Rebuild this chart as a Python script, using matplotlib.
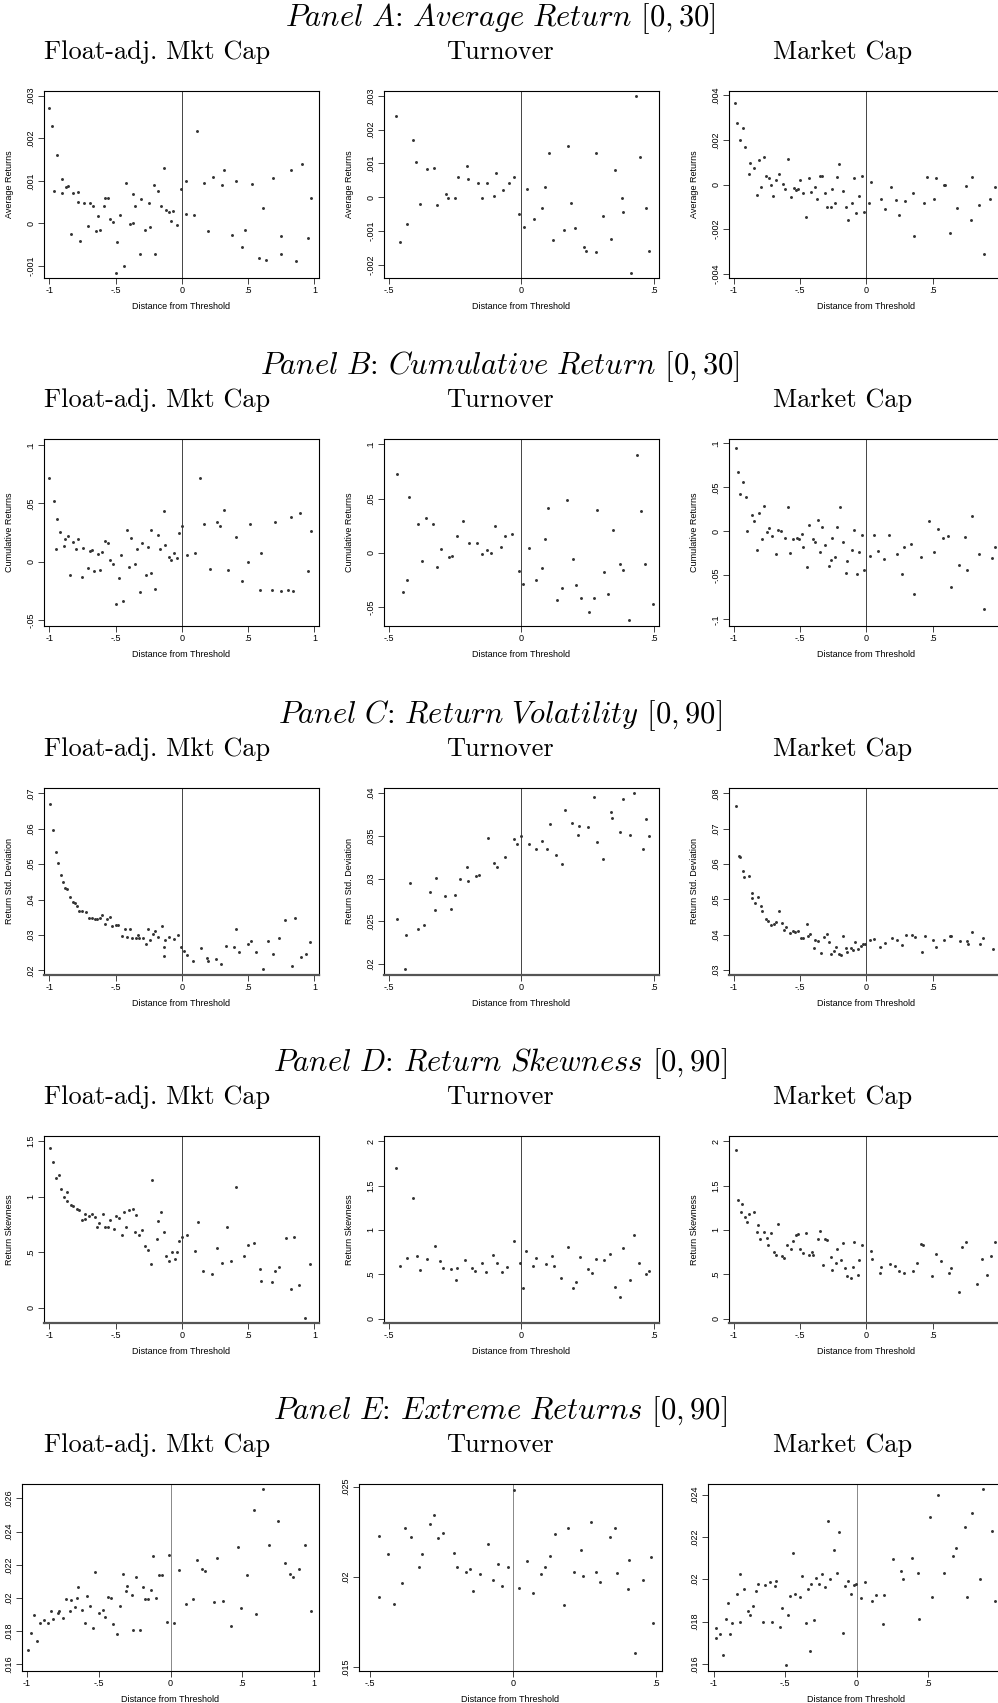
import numpy as np
import matplotlib.pyplot as plt
from matplotlib.ticker import FuncFormatter

plt.rcParams['mathtext.fontset'] = 'cm'
plt.rcParams['font.family'] = ['Liberation Sans Narrow', 'Liberation Sans', 'DejaVu Sans']

# ---------------- data (x = distance from threshold, y = outcome) ----------------
# Panel A, average return [0,30]  (y in units of 1e-3)
a_fmc = [(-1.0, 2.72), (-0.976, 2.29), (-0.943, 1.60), (-0.967, 0.76), (-0.905, 1.04), (-0.905, 0.71),
         (-0.876, 0.86), (-0.86, 0.88), (-0.833, -0.24), (-0.819, 0.71), (-0.785, 0.74), (-0.785, 0.50),
         (-0.766, -0.40), (-0.74, 0.47), (-0.71, -0.06), (-0.69, 0.48), (-0.67, 0.40), (-0.65, -0.18),
         (-0.635, 0.18), (-0.615, -0.15), (-0.59, 0.40), (-0.578, 0.59), (-0.56, 0.59), (-0.544, 0.10),
         (-0.52, 0.04), (-0.5, -1.16), (-0.487, -0.43), (-0.47, 0.21), (-0.44, -1.00), (-0.425, 0.96),
         (-0.39, -0.02), (-0.37, 0.69), (-0.368, 0.02), (-0.35, 0.40), (-0.315, -0.72), (-0.305, 0.58),
         (-0.28, -0.15), (-0.248, 0.49), (-0.24, -0.08), (-0.21, 0.91), (-0.2, -0.71), (-0.18, 0.76),
         (-0.158, 0.40), (-0.138, 1.31), (-0.12, 0.32), (-0.095, 0.26), (-0.08, 0.05), (-0.067, 0.30),
         (-0.038, -0.03), (-0.01, 0.82), (0.033, 1.00), (0.033, 0.22), (0.09, 0.20), (0.115, 2.17),
         (0.17, 0.96), (0.2, -0.18), (0.234, 1.09), (0.305, 0.90), (0.315, 1.25), (0.38, -0.27),
         (0.41, 0.99), (0.453, -0.55), (0.477, -0.16), (0.53, 0.92), (0.58, -0.82), (0.61, 0.37),
         (0.635, -0.85), (0.69, 1.06), (0.745, -0.71), (0.75, -0.29), (0.826, 1.25), (0.86, -0.87),
         (0.907, 1.40), (0.95, -0.33), (0.974, 0.60)]
a_to = [(-0.471, 2.41), (-0.455, -1.33), (-0.43, -0.79), (-0.407, 1.71), (-0.397, 1.04), (-0.383, -0.21),
        (-0.354, 0.83), (-0.33, 0.86), (-0.318, -0.23), (-0.285, 0.08), (-0.275, -0.04), (-0.251, -0.04),
        (-0.239, 0.61), (-0.203, 0.93), (-0.199, 0.53), (-0.163, 0.41), (-0.146, -0.03), (-0.129, 0.41),
        (-0.103, 0.02), (-0.096, 0.73), (-0.067, 0.21), (-0.045, 0.43), (-0.029, 0.59), (-0.007, -0.51),
        (0.01, -0.89), (0.022, 0.23), (0.048, -0.65), (0.079, -0.31), (0.091, 0.29), (0.105, 1.30),
        (0.12, -1.26), (0.16, -0.97), (0.177, 1.51), (0.187, -0.18), (0.203, -0.91), (0.237, -1.48),
        (0.244, -1.60), (0.28, 1.30), (0.28, -1.62), (0.309, -0.57), (0.337, -1.25), (0.352, 0.81),
        (0.378, -0.04), (0.385, -0.45), (0.414, -2.24), (0.431, 3.00), (0.447, 1.19), (0.471, -0.31),
        (0.483, -1.60)]
a_mc = [(-0.99, 3.67), (-0.98, 2.77), (-0.952, 1.98), (-0.93, 2.56), (-0.914, 1.69), (-0.886, 0.49),
        (-0.876, 0.97), (-0.852, 0.75), (-0.83, -0.45), (-0.814, 1.09), (-0.795, -0.10), (-0.77, 1.23),
        (-0.757, 0.40), (-0.738, 0.28), (-0.72, 0.0), (-0.705, -0.52), (-0.68, 0.22), (-0.66, 0.45),
        (-0.633, 0.01), (-0.614, -0.18), (-0.59, 1.14), (-0.57, -0.55), (-0.548, -0.15), (-0.53, -0.25),
        (-0.514, -0.18), (-0.5, 0.19), (-0.476, -0.39), (-0.457, -1.44), (-0.433, 0.30), (-0.42, -0.33),
        (-0.39, -0.10), (-0.376, -0.63), (-0.352, 0.36), (-0.338, 0.39), (-0.314, -0.40), (-0.295, -1.00),
        (-0.27, -1.02), (-0.262, -0.22), (-0.238, -0.84), (-0.224, 0.33), (-0.205, 0.91), (-0.18, -0.30),
        (-0.152, -1.02), (-0.138, -1.60), (-0.11, -0.81), (-0.09, 0.28), (-0.076, -1.29), (-0.052, -0.52),
        (-0.033, 0.40), (-0.019, -1.24), (0.019, -0.82), (0.033, 0.09), (0.11, -0.63), (0.138, -1.08),
        (0.186, -0.12), (0.224, -0.69), (0.248, -1.38), (0.295, -0.72), (0.352, -0.40), (0.362, -2.32),
        (0.438, -0.84), (0.457, 0.33), (0.514, -0.67), (0.524, 0.31), (0.586, -0.03), (0.595, -0.03),
        (0.633, -2.19), (0.686, -1.05), (0.752, -0.07), (0.79, -1.59), (0.80, 0.34), (0.852, -0.93),
        (0.886, -3.13), (0.933, -0.63), (0.971, -0.13)]

# Panel B, cumulative return [0,30]
b_fmc = [(-1.0, 0.0715), (-0.967, 0.0519), (-0.943, 0.0368), (-0.952, 0.0105), (-0.919, 0.0254),
         (-0.89, 0.0134), (-0.88, 0.0197), (-0.857, 0.0219), (-0.843, -0.0114), (-0.819, 0.0168),
         (-0.795, 0.0105), (-0.78, 0.0197), (-0.757, -0.0131), (-0.743, 0.0117), (-0.71, -0.0051),
         (-0.69, 0.0094), (-0.676, 0.0100), (-0.66, -0.0083), (-0.635, 0.0063), (-0.62, -0.0074),
         (-0.606, 0.0085), (-0.578, 0.0174), (-0.56, 0.0160), (-0.544, 0.0011), (-0.523, -0.0023),
         (-0.5, -0.0362), (-0.477, -0.0140), (-0.457, 0.0054), (-0.442, -0.0339), (-0.415, 0.0271),
         (-0.40, -0.0043), (-0.385, 0.0202), (-0.357, -0.0020), (-0.338, 0.0108), (-0.315, -0.0259),
         (-0.30, 0.0160), (-0.272, -0.0114), (-0.253, 0.0128), (-0.234, 0.0271), (-0.234, -0.0094),
         (-0.20, -0.0236), (-0.18, 0.0225), (-0.167, 0.0111), (-0.138, 0.0436), (-0.124, 0.0140),
         (-0.095, 0.0040), (-0.081, 0.0014), (-0.057, 0.0077), (-0.038, 0.0028), (-0.019, 0.0248),
         (0.0, 0.0305), (0.038, 0.0054), (0.10, 0.0077), (0.138, 0.0718), (0.167, 0.0319),
         (0.215, -0.0063), (0.263, 0.0339), (0.286, 0.0305), (0.315, 0.0444), (0.348, -0.0074),
         (0.41, 0.0211), (0.453, -0.0165), (0.50, -0.0003), (0.516, 0.0325), (0.59, -0.0239),
         (0.597, 0.0071), (0.70, 0.0339), (0.68, -0.0245), (0.745, -0.0251), (0.80, -0.0239),
         (0.823, 0.0379), (0.838, -0.0248), (0.895, 0.0416), (0.952, -0.0077), (0.976, 0.0259)]
b_to = [(-0.467, 0.073), (-0.447, -0.0362), (-0.43, -0.0255), (-0.423, 0.0512), (-0.39, 0.027),
        (-0.373, -0.008), (-0.359, 0.0325), (-0.333, 0.027), (-0.318, -0.0132), (-0.301, 0.0031),
        (-0.273, -0.0043), (-0.261, -0.0025), (-0.242, 0.0156), (-0.22, 0.0298), (-0.196, 0.0095),
        (-0.165, 0.0095), (-0.146, -0.0009), (-0.129, 0.0025), (-0.115, 0.0), (-0.10, 0.0245),
        (-0.077, 0.0055), (-0.06, 0.0153), (-0.033, 0.0172), (-0.007, -0.0166), (0.007, -0.0285),
        (0.031, 0.0043), (0.057, -0.0255), (0.077, -0.0138), (0.091, 0.0123), (0.10, 0.0414),
        (0.136, -0.0436), (0.155, -0.0322), (0.172, 0.0491), (0.194, -0.0058), (0.208, -0.0294),
        (0.227, -0.0417), (0.254, -0.0543), (0.275, -0.0417), (0.285, 0.0396), (0.313, -0.0175),
        (0.325, -0.0383), (0.344, 0.0209), (0.371, -0.0107), (0.385, -0.0163), (0.407, -0.0617),
        (0.438, 0.0902), (0.452, 0.0387), (0.467, -0.0101), (0.495, -0.0475)]
b_mc = [(-0.986, 0.0951), (-0.967, 0.0674), (-0.933, 0.056), (-0.952, 0.042), (-0.91, 0.039),
        (-0.90, 0.0008), (-0.867, 0.0186), (-0.852, 0.0117), (-0.829, -0.0212), (-0.814, 0.0205),
        (-0.786, -0.0083), (-0.776, 0.0292), (-0.748, -0.0004), (-0.733, 0.0038), (-0.714, -0.0053),
        (-0.686, -0.0258), (-0.667, 0.0015), (-0.648, 0.0), (-0.614, -0.0072), (-0.59, 0.0277),
        (-0.576, -0.025), (-0.557, -0.0091), (-0.524, -0.008), (-0.51, -0.0087), (-0.49, -0.003),
        (-0.476, -0.0182), (-0.452, -0.0409), (-0.433, 0.0072), (-0.405, -0.0091), (-0.386, -0.0117),
        (-0.362, 0.0129), (-0.352, -0.0231), (-0.333, 0.0049), (-0.31, -0.0159), (-0.286, -0.0398),
        (-0.271, -0.033), (-0.257, -0.0072), (-0.238, -0.0292), (-0.219, 0.0049), (-0.20, 0.028),
        (-0.176, -0.0117), (-0.157, -0.0477), (-0.143, -0.0341), (-0.11, -0.0216), (-0.095, 0.0019),
        (-0.071, -0.0485), (-0.052, -0.0239), (-0.033, -0.0038), (-0.019, -0.0436), (0.024, -0.028),
        (0.057, -0.0038), (0.09, -0.022), (0.133, -0.0314), (0.171, -0.0045), (0.229, -0.0261),
        (0.271, -0.0481), (0.281, -0.0182), (0.338, -0.0144), (0.362, -0.0716), (0.41, -0.0292),
        (0.476, 0.0114), (0.514, -0.0231), (0.543, 0.0027), (0.581, -0.008), (0.619, -0.0053),
        (0.643, -0.0633), (0.70, -0.0383), (0.743, -0.0061), (0.762, -0.0443), (0.80, 0.0178),
        (0.852, -0.0254), (0.886, -0.0886), (0.948, -0.0299), (0.971, -0.0174)]

# Panel C, return volatility [0,90]
c_fmc = [(-0.993, 0.0671), (-0.969, 0.0596), (-0.95, 0.0534), (-0.936, 0.0502), (-0.912, 0.0470),
         (-0.893, 0.0451), (-0.878, 0.0434), (-0.864, 0.0431), (-0.845, 0.0407), (-0.821, 0.0394),
         (-0.807, 0.0391), (-0.788, 0.0381), (-0.773, 0.0368), (-0.754, 0.0368), (-0.726, 0.0366),
         (-0.697, 0.0348), (-0.678, 0.0348), (-0.654, 0.0345), (-0.64, 0.0346), (-0.621, 0.0349),
         (-0.606, 0.0357), (-0.582, 0.0331), (-0.563, 0.0344), (-0.544, 0.0352), (-0.525, 0.0326),
         (-0.50, 0.0328), (-0.482, 0.0328), (-0.453, 0.0298), (-0.43, 0.0318), (-0.41, 0.0294),
         (-0.391, 0.0317), (-0.377, 0.0291), (-0.348, 0.0291), (-0.33, 0.0300), (-0.32, 0.0291),
         (-0.296, 0.0291), (-0.272, 0.0275), (-0.253, 0.0317), (-0.239, 0.0287), (-0.22, 0.0303),
         (-0.205, 0.0311), (-0.177, 0.0295), (-0.153, 0.0324), (-0.138, 0.0267), (-0.138, 0.0241),
         (-0.124, 0.0286), (-0.095, 0.0294), (-0.062, 0.0288), (-0.029, 0.0300), (-0.01, 0.0265),
         (0.019, 0.0256), (0.038, 0.0243), (0.086, 0.0227), (0.148, 0.0263), (0.19, 0.0236),
         (0.20, 0.0226), (0.26, 0.0232), (0.296, 0.0217), (0.334, 0.0269), (0.39, 0.0265),
         (0.41, 0.0317), (0.434, 0.0253), (0.496, 0.0275), (0.525, 0.0283), (0.563, 0.0253),
         (0.61, 0.0205), (0.649, 0.0284), (0.687, 0.0246), (0.73, 0.0292), (0.782, 0.0342),
         (0.83, 0.0212), (0.854, 0.0349), (0.897, 0.0238), (0.936, 0.0247), (0.969, 0.0279)]
c_to = [(-0.467, 0.0252), (-0.438, 0.0194), (-0.435, 0.0234), (-0.419, 0.0295), (-0.39, 0.0241),
        (-0.368, 0.0246), (-0.342, 0.0284), (-0.325, 0.0263), (-0.321, 0.0301), (-0.287, 0.0280),
        (-0.266, 0.0264), (-0.251, 0.0281), (-0.232, 0.0300), (-0.199, 0.0297), (-0.206, 0.0314),
        (-0.17, 0.0303), (-0.16, 0.0304), (-0.124, 0.0347), (-0.103, 0.0318), (-0.093, 0.0313),
        (-0.062, 0.0325), (-0.029, 0.0346), (-0.017, 0.0340), (0.0, 0.0350), (0.031, 0.0341),
        (0.055, 0.0335), (0.077, 0.0344), (0.096, 0.0335), (0.108, 0.0364), (0.132, 0.0328),
        (0.153, 0.0317), (0.165, 0.0380), (0.191, 0.0365), (0.215, 0.0351), (0.218, 0.0362),
        (0.251, 0.0360), (0.273, 0.0395), (0.285, 0.0343), (0.309, 0.0323), (0.337, 0.0378),
        (0.342, 0.0371), (0.371, 0.0355), (0.383, 0.0393), (0.409, 0.0351), (0.426, 0.0400),
        (0.459, 0.0335), (0.469, 0.0370), (0.483, 0.0350)]
c_mc = [(-0.986, 0.0764), (-0.962, 0.0624), (-0.952, 0.0621), (-0.933, 0.0579), (-0.924, 0.0564),
        (-0.89, 0.0567), (-0.867, 0.0517), (-0.862, 0.0503), (-0.838, 0.0489), (-0.819, 0.0508),
        (-0.795, 0.0482), (-0.79, 0.0468), (-0.762, 0.0445), (-0.743, 0.0440), (-0.719, 0.0427),
        (-0.70, 0.0430), (-0.68, 0.0435), (-0.662, 0.0468), (-0.638, 0.0432), (-0.624, 0.0413),
        (-0.605, 0.0421), (-0.576, 0.0404), (-0.557, 0.0410), (-0.543, 0.0408), (-0.519, 0.0410),
        (-0.495, 0.0390), (-0.476, 0.0390), (-0.452, 0.0429), (-0.438, 0.0397), (-0.424, 0.0403),
        (-0.395, 0.0363), (-0.386, 0.0384), (-0.362, 0.0383), (-0.343, 0.0347), (-0.319, 0.0394),
        (-0.30, 0.0401), (-0.286, 0.0378), (-0.271, 0.0345), (-0.248, 0.0353), (-0.229, 0.0364),
        (-0.21, 0.0345), (-0.19, 0.0343), (-0.176, 0.0397), (-0.152, 0.0361), (-0.143, 0.0351),
        (-0.119, 0.0363), (-0.10, 0.0358), (-0.086, 0.0380), (-0.062, 0.0360), (-0.043, 0.0369),
        (-0.029, 0.0375), (-0.014, 0.0374), (0.024, 0.0386), (0.057, 0.0388), (0.105, 0.0366),
        (0.138, 0.0377), (0.19, 0.0392), (0.229, 0.0385), (0.267, 0.0370), (0.30, 0.0398),
        (0.343, 0.0399), (0.371, 0.0393), (0.424, 0.0352), (0.443, 0.0397), (0.505, 0.0386),
        (0.529, 0.0365), (0.586, 0.0386), (0.629, 0.0395), (0.643, 0.0395), (0.705, 0.0383),
        (0.757, 0.0381), (0.767, 0.0373), (0.80, 0.0408), (0.862, 0.0375), (0.881, 0.0390),
        (0.957, 0.0360)]

# Panel D, return skewness [0,90]
d_fmc = [(-0.995, 1.438), (-0.971, 1.312), (-0.952, 1.171), (-0.928, 1.192), (-0.909, 1.072),
         (-0.89, 1.0), (-0.866, 1.042), (-0.866, 0.958), (-0.838, 0.928), (-0.819, 0.916),
         (-0.79, 0.886), (-0.776, 0.880), (-0.757, 0.790), (-0.733, 0.796), (-0.728, 0.841),
         (-0.704, 0.826), (-0.68, 0.841), (-0.657, 0.814), (-0.64, 0.727), (-0.623, 0.760),
         (-0.595, 0.844), (-0.576, 0.727), (-0.558, 0.724), (-0.539, 0.790), (-0.515, 0.712),
         (-0.50, 0.823), (-0.477, 0.805), (-0.453, 0.661), (-0.439, 0.865), (-0.425, 0.724),
         (-0.40, 0.883), (-0.372, 0.892), (-0.353, 0.682), (-0.348, 0.832), (-0.32, 0.661),
         (-0.301, 0.706), (-0.277, 0.562), (-0.258, 0.526), (-0.234, 0.399), (-0.224, 1.147),
         (-0.191, 0.622), (-0.177, 0.778), (-0.158, 0.862), (-0.138, 0.688), (-0.12, 0.465),
         (-0.10, 0.423), (-0.072, 0.502), (-0.053, 0.441), (-0.038, 0.508), (-0.024, 0.604),
         (0.0, 0.637), (0.038, 0.658), (0.10, 0.511), (0.124, 0.772), (0.162, 0.330),
         (0.229, 0.309), (0.267, 0.541), (0.305, 0.408), (0.344, 0.727), (0.372, 0.420),
         (0.41, 1.090), (0.468, 0.465), (0.496, 0.565), (0.544, 0.583), (0.592, 0.351),
         (0.597, 0.246), (0.678, 0.234), (0.702, 0.330), (0.73, 0.369), (0.788, 0.631),
         (0.826, 0.171), (0.845, 0.637), (0.883, 0.210), (0.931, -0.090), (0.969, 0.399)]
d_to = [(-0.471, 1.695), (-0.457, 0.591), (-0.43, 0.685), (-0.409, 1.363), (-0.392, 0.704),
        (-0.383, 0.546), (-0.354, 0.674), (-0.323, 0.825), (-0.306, 0.648), (-0.294, 0.576),
        (-0.266, 0.561), (-0.244, 0.433), (-0.242, 0.569), (-0.211, 0.659), (-0.187, 0.569),
        (-0.175, 0.535), (-0.148, 0.629), (-0.132, 0.524), (-0.105, 0.719), (-0.093, 0.625),
        (-0.072, 0.531), (-0.053, 0.588), (-0.029, 0.874), (-0.005, 0.625), (0.007, 0.350),
        (0.019, 0.761), (0.043, 0.595), (0.057, 0.685), (0.093, 0.614), (0.117, 0.704),
        (0.124, 0.595), (0.148, 0.463), (0.177, 0.810), (0.196, 0.343), (0.206, 0.418),
        (0.22, 0.697), (0.251, 0.565), (0.266, 0.512), (0.282, 0.674), (0.313, 0.667),
        (0.335, 0.734), (0.354, 0.354), (0.371, 0.249), (0.383, 0.799), (0.411, 0.437),
        (0.423, 0.949), (0.443, 0.633), (0.469, 0.505), (0.481, 0.539)]
d_mc = [(-0.986, 1.902), (-0.967, 1.333), (-0.943, 1.288), (-0.948, 1.198), (-0.914, 1.141),
        (-0.90, 1.085), (-0.886, 1.179), (-0.852, 1.202), (-0.829, 0.972), (-0.819, 1.058),
        (-0.80, 0.896), (-0.771, 0.972), (-0.752, 0.915), (-0.743, 0.829), (-0.719, 0.964),
        (-0.70, 0.757), (-0.681, 0.716), (-0.667, 1.070), (-0.638, 0.708), (-0.624, 0.682),
        (-0.60, 0.829), (-0.567, 0.780), (-0.557, 0.881), (-0.533, 0.942), (-0.519, 0.953),
        (-0.50, 0.791), (-0.481, 0.742), (-0.457, 0.964), (-0.433, 0.723), (-0.414, 0.753),
        (-0.40, 0.716), (-0.367, 0.896), (-0.352, 0.994), (-0.324, 0.610), (-0.314, 0.896),
        (-0.30, 0.889), (-0.271, 0.697), (-0.257, 0.546), (-0.233, 0.633), (-0.224, 0.780),
        (-0.195, 0.663), (-0.176, 0.851), (-0.162, 0.569), (-0.143, 0.486), (-0.119, 0.460),
        (-0.10, 0.588), (-0.09, 0.859), (-0.067, 0.490), (-0.052, 0.659), (-0.033, 0.832),
        (0.033, 0.768), (0.043, 0.678), (0.10, 0.516), (0.114, 0.584), (0.181, 0.621),
        (0.214, 0.595), (0.248, 0.535), (0.286, 0.512), (0.352, 0.542), (0.386, 0.629),
        (0.41, 0.844), (0.429, 0.829), (0.495, 0.478), (0.529, 0.727), (0.562, 0.655),
        (0.624, 0.516), (0.638, 0.573), (0.70, 0.298), (0.724, 0.810), (0.752, 0.862),
        (0.838, 0.395), (0.871, 0.674), (0.914, 0.497), (0.938, 0.708), (0.971, 0.859)]

# Panel E, extreme returns [0,90]
e_fmc = [(-0.993, 0.01688), (-0.971, 0.01791), (-0.949, 0.01897), (-0.927, 0.01742), (-0.905, 0.01851),
         (-0.879, 0.01865), (-0.852, 0.01847), (-0.83, 0.01921), (-0.817, 0.01871), (-0.786, 0.01911),
         (-0.773, 0.01923), (-0.751, 0.01879), (-0.728, 0.01995), (-0.702, 0.01919), (-0.693, 0.01987),
         (-0.667, 0.01943), (-0.649, 0.02001), (-0.64, 0.02067), (-0.618, 0.01927), (-0.596, 0.01851),
         (-0.578, 0.02011), (-0.561, 0.01953), (-0.539, 0.01817), (-0.525, 0.02158), (-0.494, 0.01907),
         (-0.468, 0.01927), (-0.455, 0.01885), (-0.433, 0.02007), (-0.411, 0.01999), (-0.402, 0.01845),
         (-0.371, 0.01781), (-0.353, 0.01951), (-0.331, 0.02146), (-0.313, 0.02045), (-0.305, 0.02071),
         (-0.269, 0.02021), (-0.26, 0.01805), (-0.243, 0.02128), (-0.212, 0.01805), (-0.19, 0.02067),
         (-0.177, 0.01991), (-0.159, 0.01991), (-0.137, 0.02047), (-0.119, 0.02252), (-0.101, 0.01999),
         (-0.079, 0.02136), (-0.062, 0.02136), (-0.026, 0.01853), (-0.013, 0.02262), (0.022, 0.01851),
         (0.057, 0.02170), (0.11, 0.01961), (0.159, 0.01991), (0.185, 0.02226), (0.221, 0.02172),
         (0.238, 0.02160), (0.30, 0.01973), (0.322, 0.02242), (0.367, 0.01981), (0.419, 0.01831),
         (0.468, 0.02308), (0.49, 0.01941), (0.534, 0.02136), (0.583, 0.02529), (0.596, 0.01905),
         (0.64, 0.02655), (0.684, 0.02322), (0.75, 0.02463), (0.795, 0.02212), (0.834, 0.02146),
         (0.852, 0.02126), (0.896, 0.02176), (0.936, 0.02322), (0.976, 0.01919)]
e_to = [(-0.47, 0.02225), (-0.47, 0.01890), (-0.438, 0.02129), (-0.415, 0.01849), (-0.389, 0.01965),
        (-0.378, 0.02271), (-0.356, 0.02221), (-0.329, 0.02057), (-0.318, 0.02127), (-0.289, 0.02295),
        (-0.275, 0.02344), (-0.262, 0.02217), (-0.246, 0.02245), (-0.206, 0.02133), (-0.195, 0.02053),
        (-0.163, 0.02029), (-0.152, 0.02044), (-0.141, 0.01923), (-0.114, 0.02017), (-0.089, 0.02180),
        (-0.069, 0.01983), (-0.051, 0.02072), (-0.038, 0.01952), (-0.018, 0.02052), (0.002, 0.02479),
        (0.022, 0.01941), (0.049, 0.02090), (0.069, 0.01912), (0.098, 0.02018), (0.11, 0.02055),
        (0.128, 0.02118), (0.145, 0.02239), (0.177, 0.01845), (0.192, 0.02269), (0.213, 0.02029),
        (0.237, 0.02151), (0.244, 0.02006), (0.271, 0.02302), (0.291, 0.02028), (0.304, 0.01972),
        (0.338, 0.02221), (0.358, 0.02271), (0.365, 0.02024), (0.403, 0.01934), (0.407, 0.02096),
        (0.427, 0.01580), (0.456, 0.01982), (0.481, 0.02110), (0.49, 0.01746)]
e_mc = [(-0.987, 0.01771), (-0.987, 0.01723), (-0.955, 0.01742), (-0.933, 0.01642), (-0.915, 0.01813),
        (-0.897, 0.01887), (-0.884, 0.01742), (-0.871, 0.01794), (-0.839, 0.01928), (-0.817, 0.01796),
        (-0.813, 0.02025), (-0.786, 0.01954), (-0.759, 0.01849), (-0.746, 0.01833), (-0.728, 0.01873),
        (-0.705, 0.01942), (-0.688, 0.01978), (-0.656, 0.01797), (-0.638, 0.01973), (-0.607, 0.01987),
        (-0.594, 0.01799), (-0.571, 0.01969), (-0.567, 0.01991), (-0.536, 0.01772), (-0.522, 0.01862),
        (-0.496, 0.01594), (-0.478, 0.01833), (-0.469, 0.01921), (-0.446, 0.02126), (-0.429, 0.01932),
        (-0.393, 0.01918), (-0.384, 0.02016), (-0.353, 0.01793), (-0.339, 0.01954), (-0.326, 0.01659),
        (-0.317, 0.01975), (-0.299, 0.01807), (-0.286, 0.02006), (-0.263, 0.01978), (-0.241, 0.02025),
        (-0.219, 0.01964), (-0.201, 0.02277), (-0.187, 0.02000), (-0.161, 0.02138), (-0.138, 0.02031),
        (-0.125, 0.02225), (-0.094, 0.01744), (-0.08, 0.01969), (-0.062, 0.01991), (-0.036, 0.01929),
        (-0.018, 0.01973), (-0.004, 0.01978), (0.031, 0.01909), (0.058, 0.01987), (0.112, 0.01895),
        (0.134, 0.01926), (0.196, 0.01926), (0.188, 0.01786), (0.254, 0.02094), (0.313, 0.02041),
        (0.326, 0.02003), (0.388, 0.02101), (0.433, 0.02031), (0.438, 0.01813), (0.518, 0.02292),
        (0.527, 0.01917), (0.571, 0.02399), (0.616, 0.02028), (0.674, 0.02110), (0.696, 0.02146),
        (0.763, 0.02248), (0.772, 0.01918), (0.808, 0.02314), (0.866, 0.02002), (0.888, 0.02426),
        (0.946, 0.02228), (0.973, 0.01895)]

col_names = ["Float-adj. Mkt Cap", "Turnover", "Market Cap"]
panel_titles = [r"$\mathit{Panel\ A}$: $\mathit{Average\ Return}$ $[0,30]$",
                r"$\mathit{Panel\ B}$: $\mathit{Cumulative\ Return}$ $[0,30]$",
                r"$\mathit{Panel\ C}$: $\mathit{Return\ Volatility}$ $[0,90]$",
                r"$\mathit{Panel\ D}$: $\mathit{Return\ Skewness}$ $[0,90]$",
                r"$\mathit{Panel\ E}$: $\mathit{Extreme\ Returns}$ $[0,90]$"]
y_titles = ["Average Returns", "Cumulative Returns", "Return Std. Deviation", "Return Skewness", None]
y_scale = [1e-3, 1, 1, 1, 1]
panel_data = [[a_fmc, a_to, a_mc], [b_fmc, b_to, b_mc], [c_fmc, c_to, c_mc],
              [d_fmc, d_to, d_mc], [e_fmc, e_to, e_mc]]
y_ticks = [[[-.001, 0, .001, .002, .003], [-.002, -.001, 0, .001, .002, .003], [-.004, -.002, 0, .002, .004]],
           [[-.05, 0, .05, .1], [-.05, 0, .05, .1], [-.1, -.05, 0, .05, .1]],
           [[.02, .03, .04, .05, .06, .07], [.02, .025, .03, .035, .04], [.03, .04, .05, .06, .07, .08]],
           [[0, .5, 1, 1.5], [0, .5, 1, 1.5, 2], [0, .5, 1, 1.5, 2]],
           [[.016, .018, .02, .022, .024, .026], [.015, .02, .025], [.016, .018, .02, .022, .024]]]
y_lims = [[(-0.00128, 0.00311), (-0.0024, 0.00315), (-0.0042, 0.0042)],
          [(-0.055, 0.105), (-0.0675, 0.105), (-0.1076, 0.105)],
          [(0.0187, 0.0715), (0.0187, 0.0406), (0.0286, 0.0815)],
          [(-0.135, 1.547), (-0.049, 2.06), (-0.049, 2.06)],
          [(0.0156, 0.02687), (0.01479, 0.02514), (0.01566, 0.0245)]]
# the right-hand column is cropped at the page edge, so its "1" tick never shows
x_ticks = [[-1, -.5, 0, .5, 1], [-.5, 0, .5], [-1, -.5, 0, .5]]

# ---------------- layout (pixels of the 998 x 1703 canvas) ----------------
W, H = 998, 1703
row_tops = [91, 439, 788, 1136, 1484]
ax_h = 187
col_left = [44, 384, 729]
col_w = [275, 275, 275]
col_xlim = [(-1.04, 1.035), (-0.517, 0.519), (-1.038, 1.04)]
e_left = [22, 359, 708]
e_w = [297, 303, 297]
e_xlim = [(-1.033, 1.033), (-0.539, 0.521), (-1.04, 1.04)]
head_x = [157, 500, 843]


def stata_fmt(v, pos):
    s = f"{round(v, 6):g}"
    if s.startswith("0."):
        s = s[1:]
    elif s.startswith("-0."):
        s = "-" + s[2:]
    return s


fig = plt.figure(figsize=(W / 100, H / 100), dpi=100)

for r in range(5):
    top = row_tops[r]
    fig.text(500 / W, 1 - (top - 72) / H, panel_titles[r], ha="center", va="center",
             family="cmr10", fontsize=22)
    for c in range(3):
        fig.text(head_x[c] / W, 1 - (top - 39) / H, col_names[c], ha="center", va="center",
                 family="cmr10", fontsize=19)
        if r < 4:
            left, width, xlim = col_left[c], col_w[c], col_xlim[c]
        else:
            left, width, xlim = e_left[c], e_w[c], e_xlim[c]
        ax = fig.add_axes([left / W, 1 - (top + ax_h) / H, width / W, ax_h / H])
        pts = np.array(panel_data[r][c])
        xs, ys = pts[:, 0], pts[:, 1] * y_scale[r]
        ax.axvline(0, color="#888888" if r == 4 else "#444444", lw=0.7, zorder=1)
        ax.scatter(xs, ys, s=4.5, color="#333333", linewidths=0, zorder=2)
        ax.set_xlim(*xlim)
        ax.set_ylim(*y_lims[r][c])
        ax.set_xticks(x_ticks[c])
        ax.set_yticks(y_ticks[r][c])
        ax.xaxis.set_major_formatter(FuncFormatter(stata_fmt))
        ax.yaxis.set_major_formatter(FuncFormatter(stata_fmt))
        ax.tick_params(direction="out", length=4, width=0.6, labelsize=6.5, pad=2, color="#222222")
        ax.tick_params(axis="y", labelrotation=90)
        for lab in ax.get_yticklabels():
            lab.set_va("center")
        for sp in ax.spines.values():
            sp.set_linewidth(0.8)
        if r in (2, 3):
            ax.spines["bottom"].set_linewidth(1.6)
            ax.spines["bottom"].set_color("#555555")
        ax.set_xlabel("Distance from Threshold", fontsize=6.5, labelpad=5)
        if y_titles[r]:
            ax.set_ylabel(y_titles[r], fontsize=6.5, labelpad=9)

fig.savefig("out.png", dpi=100)
